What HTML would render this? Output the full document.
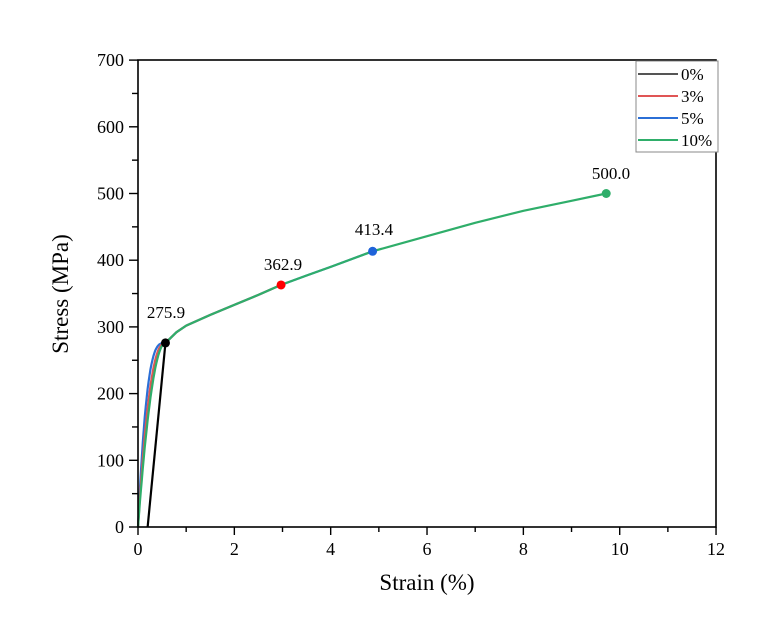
<!DOCTYPE html>
<html><head><meta charset="utf-8"><style>
body{margin:0;background:#fff;}
svg{display:block;font-family:"Liberation Serif",serif;}
</style></head><body>
<svg id="s" width="769" height="634" xmlns="http://www.w3.org/2000/svg">
<rect x="0" y="0" width="769" height="634" fill="#fff"/>
<g id="curves" fill="none" stroke-width="2.2"></g>
<rect x="138" y="60" width="578" height="467" fill="none" stroke="#000" stroke-width="1.6"/>
<g id="ticks" stroke="#000" stroke-width="1.4"></g>
<g id="labels" font-size="18" fill="#000"></g>
<text x="427" y="590" font-size="23" text-anchor="middle">Strain (%)</text>
<text transform="translate(68,294) rotate(-90)" font-size="23" text-anchor="middle">Stress (MPa)</text>
<rect x="636" y="61" width="82" height="91" fill="#fff" stroke="#888" stroke-width="1"/>
<g stroke-width="2"><line x1="638" y1="74" x2="678" y2="74" stroke="#555"/>
<line x1="638" y1="96" x2="678" y2="96" stroke="#e05555"/>
<line x1="638" y1="118" x2="678" y2="118" stroke="#2b6fd6"/>
<line x1="638" y1="140" x2="678" y2="140" stroke="#2fae6a"/></g>
<g font-size="17"><text x="681" y="80">0%</text><text x="681" y="102">3%</text><text x="681" y="124">5%</text><text x="681" y="146">10%</text></g>
<g font-size="17" text-anchor="middle"><text x="166" y="318">275.9</text><text x="283" y="270">362.9</text><text x="374" y="235">413.4</text><text x="611" y="179">500.0</text></g>
</svg>
<script>
const X=s=>138+48.17*s, Y=v=>527-0.667*v;
const t=document.getElementById('ticks'),l=document.getElementById('labels'),c=document.getElementById('curves');
let h='',L='';
for(let i=0;i<=12;i++){let x=X(i);h+=`<line x1="${x}" y1="527" x2="${x}" y2="${i%2?532:535}"/>`;if(i%2==0)L+=`<text x="${x}" y="555" text-anchor="middle">${i}</text>`;}
for(let v=0;v<=700;v+=50){let y=Y(v);h+=`<line x1="138" y1="${y}" x2="${v%100?132:129}" y2="${y}"/>`;if(v%100==0)L+=`<text x="124" y="${y+6}" text-anchor="end">${v}</text>`;}
t.innerHTML=h;l.innerHTML=L;
const K=[[0.57,276],[0.8,292],[1,302],[1.5,318],[2,333],[2.5,348],[2.97,362.9],[3.5,377],[4,390],[4.87,413.4],[6,436],[7,456],[8,474],[9,489],[9.72,500]];
function curve(end,e,col){let p=[];
 for(let s=0;s<0.57;s+=0.02){let a=s/0.57;let v=(1-Math.pow(1-a,e))*276;p.push([s,v]);}
 for(const k of K){if(k[0]<=end+1e-6)p.push(k);}
 return `<polyline points="${p.map(q=>X(q[0]).toFixed(1)+','+Y(q[1]).toFixed(1)).join(' ')}" stroke="${col}" stroke-linejoin="round"/>`;}
let H='';
H+=curve(4.87,3.2,'#2b6fd6');
H+=curve(2.97,2.4,'#e05555');
H+=curve(9.72,2.0,'#2fae6a');
H+=`<line x1="${X(0.2)}" y1="${Y(0)}" x2="${X(0.57)}" y2="${Y(276)}" stroke="#000"/>`;
H+=`<circle cx="${X(0.57)}" cy="${Y(276)}" r="4.5" fill="#000"/>`;
H+=`<circle cx="${X(2.97)}" cy="${Y(362.9)}" r="4.5" fill="#f00"/>`;
H+=`<circle cx="${X(4.87)}" cy="${Y(413.4)}" r="4.5" fill="#1f63d9"/>`;
H+=`<circle cx="${X(9.72)}" cy="${Y(500)}" r="4.5" fill="#2fae6a"/>`;
c.innerHTML=H;
</script>
</body></html>
